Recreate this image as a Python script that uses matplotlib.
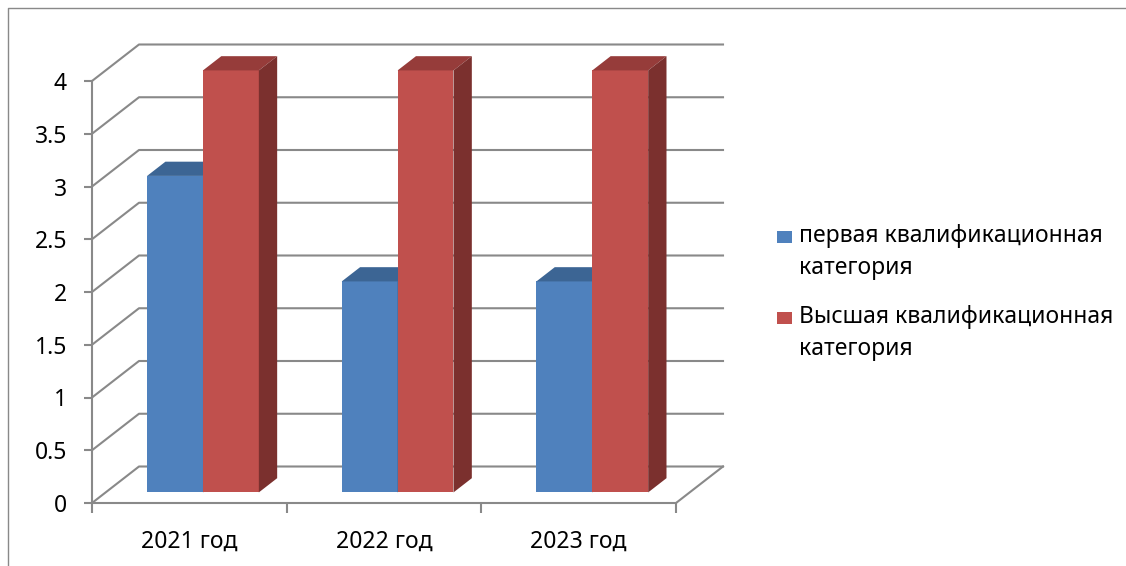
import matplotlib.pyplot as plt
from matplotlib.patches import Polygon, Rectangle
from matplotlib.lines import Line2D
import numpy as np

plt.rcParams['font.family'] = ['Noto Sans', 'DejaVu Sans']

categories = ['2021 год', '2022 год', '2023 год']
series_names = ['первая квалификационная\nкатегория', 'Высшая квалификационная\nкатегория']
first_cat = [3, 2, 2]
highest_cat = [4, 4, 4]
y_ticks = [0, 0.5, 1, 1.5, 2, 2.5, 3, 3.5, 4]
y_labels = ['0', '0.5', '1', '1.5', '2', '2.5', '3', '3.5', '4']

front_colors = ['#4F81BD', '#C0504D']
top_colors = ['#3C6594', '#963C3A']
side_colors = ['#3A5F8C', '#7B302E']
grid_color = '#898989'

W, H = 1126, 566
fig = plt.figure(figsize=(W / 100, H / 100), dpi=100)

# axes = front plane of the 3d box (pixels 92..676 x, 503..81 y)
x0, x1, yb, yt = 92, 676, 503, 81
ax = fig.add_axes([x0 / W, (H - yb) / H, (x1 - x0) / W, (yb - yt) / H])
ax.set_xlim(0, 3)
ax.set_ylim(0, 4)
ax.patch.set_alpha(0)

px_x = 3 / (x1 - x0)
px_y = 4 / (yb - yt)
DX, DY = 47 * px_x, 36.5 * px_y          # full depth of the box
f0, f1 = 0.29, 0.68                       # depth range taken by the bars
bw = 0.287
gap = (1 - 2 * bw) / 2

# walls: gridlines on the side wall and back wall
for v in y_ticks:
    ax.plot([0, DX, 3 + DX], [v, v + DY, v + DY], color=grid_color, lw=1.5,
            clip_on=False, zorder=1)
# floor
ax.plot([3, 3 + DX], [0, DY], color=grid_color, lw=1.5, clip_on=False, zorder=1)

# bars
idx = np.arange(len(categories))
for s, vals in enumerate([first_cat, highest_cat]):
    lefts = idx + gap + s * bw + f0 * DX
    ax.bar(lefts, vals, width=bw, bottom=f0 * DY, align='edge',
           color=front_colors[s], clip_on=False, zorder=3 + s, label=series_names[s])
    d = (f1 - f0)
    for l, v in zip(lefts, vals):
        top = v + f0 * DY
        ax.add_patch(Polygon([(l, top), (l + bw, top), (l + bw + d * DX, top + d * DY),
                              (l + d * DX, top + d * DY)], closed=True,
                             facecolor=top_colors[s], edgecolor='none', clip_on=False,
                             zorder=3 + s))
        ax.add_patch(Polygon([(l + bw, f0 * DY), (l + bw + d * DX, f0 * DY + d * DY),
                              (l + bw + d * DX, top + d * DY), (l + bw, top)], closed=True,
                             facecolor=side_colors[s], edgecolor='none', clip_on=False,
                             zorder=3 + s))

for side in ['top', 'right']:
    ax.spines[side].set_visible(False)
for side in ['left', 'bottom']:
    ax.spines[side].set_color(grid_color)
    ax.spines[side].set_linewidth(1.5)

ax.set_yticks(y_ticks)
ax.set_yticklabels(y_labels)
ax.tick_params(axis='y', length=6, width=1.5, color=grid_color, pad=12, labelsize=16.5)
ax.set_xticks([0, 1, 2, 3])
ax.set_xticklabels([])
ax.tick_params(axis='x', which='major', length=7, width=1.5, color=grid_color)
ax.set_xticks(idx + 0.5, minor=True)
ax.set_xticklabels(categories, minor=True)
ax.tick_params(axis='x', which='minor', length=0, pad=19, labelsize=16.5)

# legend, drawn by hand so the marker sits on the first text line
for i, name in enumerate(series_names):
    yc = 237 + i * 81
    fig.patches.append(Rectangle((777 / W, 1 - (yc + 6) / H), 15 / W, 12 / H,
                                 transform=fig.transFigure, facecolor=front_colors[i],
                                 edgecolor='none'))
    fig.text(799 / W, 1 - (yc + 15) / H, name, fontsize=16.5, va='center', ha='left',
             linespacing=1.45)

# chart border
fig.add_artist(Line2D([8 / W, 8 / W, 1], [0, 1 - 8 / H, 1 - 8 / H], color=grid_color, lw=1))

fig.savefig('out.png', dpi=100)
